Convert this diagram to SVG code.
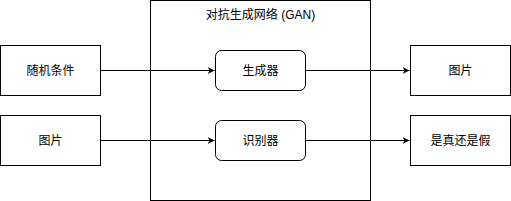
<svg xmlns="http://www.w3.org/2000/svg" width="511" height="201" viewBox="0 0 511 201">
<style>
.box{fill:#fff;stroke:#000;stroke-width:1}
.t{font-family:"Liberation Sans","Noto Sans CJK SC",sans-serif;font-size:12px;fill:#000;text-anchor:middle;dominant-baseline:central}
.c{fill:none;stroke:#000;stroke-width:1}
</style>
<defs>
<marker id="a" viewBox="0 0 10 10" refX="10" refY="5" markerWidth="7" markerHeight="7" markerUnits="userSpaceOnUse" orient="auto">
<path d="M0,0 L10,5 L0,10 L3,5 Z" fill="#000"/>
</marker>
</defs>
<g id="gan"><rect class="box" x="150.5" y="0.5" width="220" height="200"/><text class="t" x="260.5" y="15">对抗生成网络 (GAN)</text></g>
<g id="connectors">
<path class="c" d="M100.5,70.5 L214.5,70.5" marker-end="url(#a)"/>
<path class="c" d="M100.5,140.5 L214.5,140.5" marker-end="url(#a)"/>
<path class="c" d="M305.5,70.5 L409.5,70.5" marker-end="url(#a)"/>
<path class="c" d="M305.5,140.5 L409.5,140.5" marker-end="url(#a)"/>
</g>
<g id="random"><rect class="box" x="0.5" y="45.5" width="100" height="50"/><text class="t" x="50.5" y="70.5">随机条件</text></g>
<g id="img-in"><rect class="box" x="0.5" y="115.5" width="100" height="50"/><text class="t" x="50.5" y="140.5">图片</text></g>
<g id="gen"><rect class="box" x="215.5" y="50.5" width="90" height="40" rx="6"/><text class="t" x="260.5" y="70.5">生成器</text></g>
<g id="disc"><rect class="box" x="215.5" y="120.5" width="90" height="40" rx="6"/><text class="t" x="260.5" y="140.5">识别器</text></g>
<g id="img-out"><rect class="box" x="410.5" y="45.5" width="100" height="50"/><text class="t" x="460.5" y="70.5">图片</text></g>
<g id="real"><rect class="box" x="410.5" y="115.5" width="100" height="50"/><text class="t" x="460.5" y="140.5">是真还是假</text></g>
</svg>
